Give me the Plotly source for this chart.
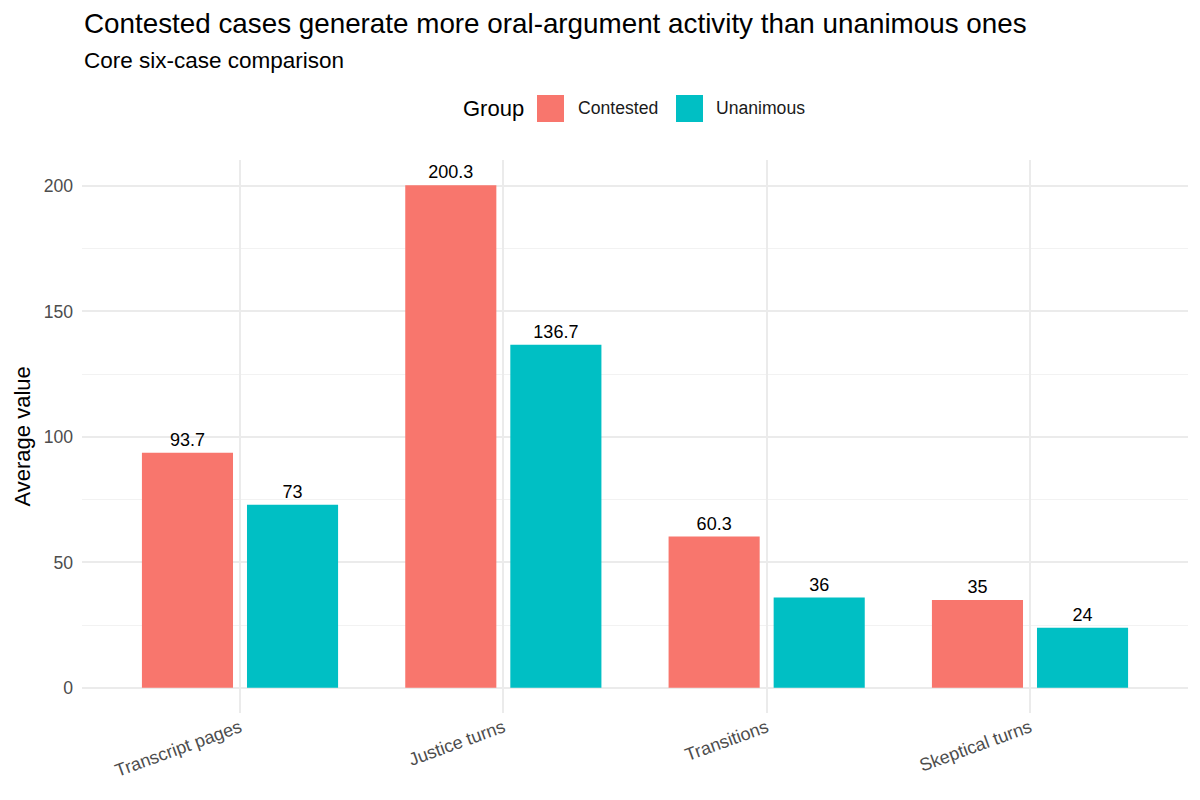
import plotly.graph_objects as go

metrics = ["Transcript pages", "Justice turns", "Transitions", "Skeptical turns"]
contested = [93.7, 200.3, 60.3, 35]
unanimous = [73, 136.7, 36, 24]
contested_labels = ["93.7", "200.3", "60.3", "35"]
unanimous_labels = ["73", "136.7", "36", "24"]
groups = ["Contested", "Unanimous"]
colors = ["#F8766D", "#00BFC4"]

font_family = "Liberation Sans, Arial, sans-serif"

# the page body adds an 8px margin top/left, so the figure is drawn 8px smaller
OFF = 8
W, H = 1200 - OFF, 800 - OFF
L, R, T, B = 82 - OFF, 12, 160 - OFF, 87
pw, ph = W - L - R, H - T - B


def px_x(x):
    return (x - OFF - L) / pw


def px_y(y):
    return (H - B - (y - OFF)) / ph


fig = go.Figure()
for name, vals, labels, col in zip(groups, [contested, unanimous],
                                   [contested_labels, unanimous_labels], colors):
    fig.add_trace(go.Bar(
        x=metrics, y=vals, name=name, showlegend=False,
        marker=dict(color=col, line=dict(width=0)),
        text=labels, textposition="outside", cliponaxis=False,
        textfont=dict(size=18, color="#000000", family=font_family)))

annotations = [
    dict(text="Contested cases generate more oral-argument activity than unanimous ones",
         x=0, y=px_y(24), xanchor="left", yanchor="middle",
         font=dict(size=27.8, color="#000000")),
    dict(text="Core six-case comparison",
         x=0, y=px_y(61), xanchor="left", yanchor="middle",
         font=dict(size=22.5, color="#000000")),
    dict(text="Average value", textangle=-90,
         x=px_x(22), y=0.5, xanchor="center", yanchor="middle",
         font=dict(size=22, color="#000000")),
    # legend drawn by hand to get ggplot-sized keys
    dict(text="Group", x=px_x(461), y=px_y(108), xanchor="left", yanchor="middle",
         font=dict(size=22, color="#000000")),
    dict(text="Contested", x=px_x(576), y=px_y(108), xanchor="left", yanchor="middle",
         font=dict(size=17.6, color="#1a1a1a")),
    dict(text="Unanimous", x=px_x(714), y=px_y(108), xanchor="left", yanchor="middle",
         font=dict(size=17.6, color="#1a1a1a")),
]
for a in annotations:
    a.update(xref="paper", yref="paper", showarrow=False)

shapes = []
for x0, col in zip([537, 676], colors):
    shapes.append(dict(type="rect", xref="paper", yref="paper",
                       x0=px_x(x0), x1=px_x(x0 + 27), y0=px_y(95), y1=px_y(122),
                       fillcolor=col, line=dict(width=0)))

fig.update_layout(
    width=W, height=H,
    paper_bgcolor="white", plot_bgcolor="white",
    font=dict(family=font_family, color="#222222"),
    barmode="group", bargap=0.202, bargroupgap=0.133,
    margin=dict(l=L, r=R, t=T, b=B, autoexpand=False),
    annotations=annotations, shapes=shapes,
    xaxis=dict(
        range=[-0.6, 3.6], tickangle=-20, showgrid=True, gridcolor="#EBEBEB",
        gridwidth=2, ticks="", zeroline=False, automargin=False,
        tickfont=dict(size=18, color="#4D4D4D")),
    yaxis=dict(
        range=[-10.015, 210.315], tickvals=[0, 50, 100, 150, 200],
        showgrid=True, gridcolor="#EBEBEB", gridwidth=2, zeroline=False,
        ticks="", ticklabelstandoff=8, automargin=False,
        tickfont=dict(size=17.6, color="#4D4D4D"),
        minor=dict(tickvals=[25, 75, 125, 175], showgrid=True,
                   gridcolor="#F2F2F2", gridwidth=1)),
)

fig.write_html("out.html")
